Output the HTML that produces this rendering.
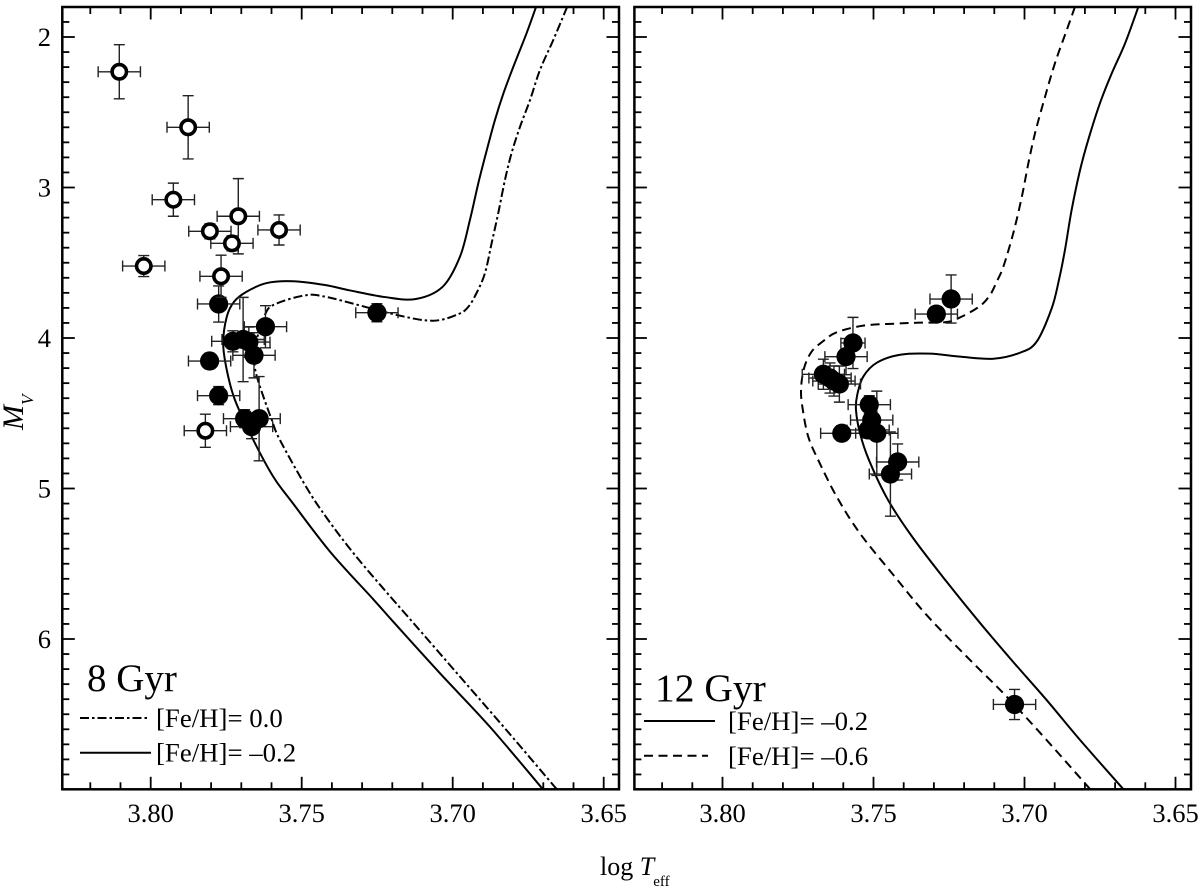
<!DOCTYPE html>
<html lang="en">
<head>
<meta charset="utf-8">
<title>Isochrone comparison: 8 Gyr and 12 Gyr</title>
<style>
html,body{margin:0;padding:0;background:#fff;}
svg{display:block;}
text{font-family:"Liberation Serif",serif;fill:#000;}
</style>
</head>
<body>
<svg id="chart" xmlns="http://www.w3.org/2000/svg" width="1200" height="888" viewBox="0 0 1200 888">
  <rect x="0" y="0" width="1200" height="888" fill="#fff"/>
  <defs>
    <clipPath id="clip-left"><rect x="62.3" y="7" width="556.7" height="782.3"/></clipPath>
    <clipPath id="clip-right"><rect x="634.4" y="7" width="556.6" height="782.3"/></clipPath>
  </defs>
  <g id="panel-left"></g>
  <g id="panel-right"></g>

  <text x="87" y="691" font-size="39">8 Gyr</text>
  <line x1="80" y1="718" x2="147" y2="718" stroke="#000" stroke-width="2" stroke-dasharray="9 3 2.5 3"/>
  <text x="156" y="727" font-size="26.8">[Fe/H]= 0.0</text>
  <line x1="80" y1="752.7" x2="151" y2="752.7" stroke="#000" stroke-width="2"/>
  <text x="156" y="761.7" font-size="26.8">[Fe/H]= –0.2</text>

  <text x="655" y="701" font-size="39.5">12 Gyr</text>
  <line x1="644" y1="721" x2="715" y2="721" stroke="#000" stroke-width="2"/>
  <text x="728" y="730" font-size="26.8">[Fe/H]= –0.2</text>
  <line x1="644" y1="755.7" x2="708" y2="755.7" stroke="#000" stroke-width="2" stroke-dasharray="9 5.5"/>
  <text x="728" y="765" font-size="26.8">[Fe/H]= –0.6</text>

  <text x="600" y="875" font-size="26">log <tspan font-style="italic">T</tspan><tspan dx="-1" dy="11" font-size="15">eff</tspan></text>
  <text transform="translate(23,430) rotate(-90)" font-size="30" font-style="italic">M<tspan dy="10" font-size="17">V</tspan></text>
</svg>

<script>
// ---- tick values ----
const xMajorTicks = [3.80, 3.75, 3.70, 3.65];
const xMajorLabels = ['3.80', '3.75', '3.70', '3.65'];
const xMinorTicks = [3.82, 3.81, 3.79, 3.78, 3.77, 3.76, 3.74, 3.73, 3.72, 3.71, 3.69, 3.68, 3.67, 3.66];
const yMajorTicks = [2, 3, 4, 5, 6];
const yMajorLabels = ['2', '3', '4', '5', '6'];
const yMinorTicks = [1.9, 2.1, 2.2, 2.3, 2.4, 2.5, 2.6, 2.7, 2.8, 2.9, 3.1, 3.2, 3.3, 3.4, 3.5, 3.6, 3.7, 3.8, 3.9, 4.1, 4.2, 4.3, 4.4, 4.5, 4.6, 4.7, 4.8, 4.9, 5.1, 5.2, 5.3, 5.4, 5.5, 5.6, 5.7, 5.8, 5.9, 6.1, 6.2, 6.3, 6.4, 6.5, 6.6, 6.7, 6.8, 6.9];

// ---- 8 Gyr isochrones ----
const left02LogT = [3.6724,3.6755,3.6799,3.6832,3.6860,3.6887,3.6915,3.6943,3.6976,3.7033,3.7122,3.7224,3.7340,3.7423,3.7529,3.7616,3.7682,3.7724,3.7748,3.7760,3.7748,3.7721,3.7660,3.7594,3.7533,3.7406,3.7263,3.7197,3.7042,3.6877,3.6702];
const left02Mv = [1.8,1.973,2.197,2.374,2.551,2.751,2.970,3.216,3.460,3.659,3.741,3.728,3.684,3.648,3.623,3.635,3.692,3.759,3.858,4.035,4.213,4.412,4.678,4.922,5.088,5.420,5.736,5.885,6.228,6.583,6.997];
const left00LogT = [3.6621,3.6667,3.6711,3.6744,3.6777,3.6805,3.6827,3.6849,3.6871,3.6893,3.6921,3.6948,3.6981,3.7064,3.7185,3.7417,3.7495,3.7594,3.7622,3.7645,3.7658,3.7655,3.7638,3.7599,3.7572,3.7483,3.7417,3.7329,3.7230,3.7130,3.6976,3.6821,3.6656];
const left00Mv = [1.8,2.020,2.219,2.419,2.596,2.771,2.950,3.169,3.369,3.568,3.701,3.792,3.841,3.885,3.847,3.728,3.719,3.781,3.847,3.980,4.093,4.199,4.324,4.545,4.678,4.997,5.196,5.429,5.664,5.894,6.250,6.608,6.997];

// ---- 12 Gyr isochrones ----
const right02LogT = [3.6623,3.6667,3.6711,3.6750,3.6789,3.6816,3.6844,3.6866,3.6886,3.6910,3.6960,3.7015,3.7103,3.7214,3.7313,3.7412,3.7489,3.7534,3.7554,3.7558,3.7545,3.7515,3.7452,3.7369,3.7258,3.7147,3.7038,3.6927,3.6816,3.6673];
const right02Mv = [1.8,2.042,2.241,2.439,2.684,2.884,3.150,3.415,3.615,3.803,4.025,4.098,4.138,4.124,4.104,4.111,4.164,4.257,4.379,4.478,4.631,4.811,5.076,5.329,5.619,5.894,6.151,6.405,6.671,6.997];
const right06LogT = [3.6833,3.6860,3.6899,3.6932,3.6965,3.6987,3.7009,3.7037,3.7070,3.7092,3.7114,3.7147,3.7208,3.7258,3.7346,3.7434,3.7534,3.7622,3.7666,3.7705,3.7730,3.7740,3.7734,3.7716,3.7683,3.7622,3.7545,3.7434,3.7324,3.7191,3.7059,3.6927,3.6783];
const right06Mv = [1.8,1.953,2.173,2.397,2.638,2.837,3.063,3.302,3.526,3.626,3.714,3.787,3.858,3.894,3.898,3.905,3.918,3.962,4.020,4.091,4.201,4.346,4.478,4.656,4.811,5.054,5.298,5.575,5.841,6.118,6.383,6.671,6.997];

// ---- 8 Gyr stars ----
const leftFilledLogT = [3.7775,3.7620,3.7251,3.7728,3.7694,3.7675,3.7658,3.7805,3.7775,3.7689,3.7641,3.7666];
const leftFilledMv = [3.774,3.925,3.832,4.022,4.010,4.027,4.115,4.153,4.383,4.536,4.536,4.589];
const leftFilledErrT = [0.007,0.007,0.007,0.007,0.007,0.007,0.007,0.007,0.007,0.007,0.007,0.007];
const leftFilledErrM = [0.12,0.14,0.06,0.07,0.28,0.10,0.15,0.05,0.06,0.06,0.28,0.08];
const leftOpenLogT = [3.8104,3.7876,3.7925,3.7710,3.7804,3.7575,3.7731,3.8023,3.7767,3.7819];
const leftOpenMv = [2.231,2.600,3.081,3.191,3.291,3.282,3.371,3.522,3.590,4.616];
const leftOpenErrT = [0.007,0.007,0.007,0.007,0.007,0.007,0.007,0.007,0.007,0.007];
const leftOpenErrM = [0.18,0.21,0.11,0.25,0.05,0.10,0.05,0.07,0.14,0.11];

// ---- 12 Gyr stars ----
const rightFilledLogT = [3.7243,3.7292,3.7568,3.7591,3.7666,3.7644,3.7631,3.7613,3.7514,3.7506,3.7518,3.7489,3.7605,3.7420,3.7444,3.7033];
const rightFilledMv = [3.741,3.841,4.033,4.124,4.241,4.266,4.286,4.306,4.443,4.545,4.611,4.633,4.633,4.824,4.904,6.435];
const rightFilledErrT = [0.007,0.007,0.004,0.007,0.007,0.007,0.007,0.007,0.007,0.007,0.007,0.007,0.007,0.007,0.007,0.007];
const rightFilledErrM = [0.16,0.05,0.17,0.12,0.10,0.10,0.10,0.12,0.06,0.07,0.05,0.28,0.05,0.12,0.28,0.10];

const SVGNS = 'http://www.w3.org/2000/svg';

function mk(tag, attrs, parent) {
  const el = document.createElementNS(SVGNS, tag);
  for (const k in attrs) el.setAttribute(k, attrs[k]);
  parent.appendChild(el);
  return el;
}

function yScale(m) { return 37 + (m - 2) * 150.5; }

function drawAxes(g, xScale, left, right, showYLabels) {
  const top = 7, bottom = 789.3;
  const frame = mk('rect', {x: left, y: top, width: right - left, height: bottom - top, fill: 'none', stroke: '#000', 'stroke-width': 2.5}, g);
  
  

  function vTicks(vals, len, name) {
    vals.forEach(function (v) {
      const x = xScale(v);
      const t1 = mk('line', {x1: x, x2: x, y1: bottom, y2: bottom - len, stroke: '#000', 'stroke-width': 1.8}, g);
      
      
      const t2 = mk('line', {x1: x, x2: x, y1: top, y2: top + len, stroke: '#000', 'stroke-width': 1.8}, g);
      
      
    });
  }
  function hTicks(vals, len, name) {
    vals.forEach(function (m) {
      const y = yScale(m);
      const t1 = mk('line', {x1: left, x2: left + len, y1: y, y2: y, stroke: '#000', 'stroke-width': 1.8}, g);
      
      
      const t2 = mk('line', {x1: right, x2: right - len, y1: y, y2: y, stroke: '#000', 'stroke-width': 1.8}, g);
      
      
    });
  }
  vTicks(xMajorTicks, 12.5, 'x-major-tick');
  vTicks(xMinorTicks, 7, 'x-minor-tick');
  hTicks(yMajorTicks, 12.5, 'y-major-tick');
  hTicks(yMinorTicks, 7, 'y-minor-tick');

  xMajorTicks.forEach(function (v, i) {
    const t = mk('text', {x: xScale(v), y: 822, 'font-size': 26.5, 'text-anchor': 'middle'}, g);
    
    
    t.textContent = xMajorLabels[i];
  });
  if (showYLabels) {
    yMajorTicks.forEach(function (m, i) {
      const t = mk('text', {x: 51, y: yScale(m) + 8.8, 'font-size': 26.5, 'text-anchor': 'end'}, g);
      
      
      t.textContent = yMajorLabels[i];
    });
  }
}

function drawCurve(g, xScale, logT, mv, dash, clipId, name) {
  // Catmull-Rom smoothing through the data points
  const pts = logT.map(function (v, i) { return [xScale(v), yScale(mv[i])]; });
  let d = 'M' + pts[0][0].toFixed(2) + ' ' + pts[0][1].toFixed(2);
  for (let i = 0; i < pts.length - 1; i++) {
    const p0 = pts[Math.max(i - 1, 0)], p1 = pts[i], p2 = pts[i + 1], p3 = pts[Math.min(i + 2, pts.length - 1)];
    const c1x = p1[0] + (p2[0] - p0[0]) / 6, c1y = p1[1] + (p2[1] - p0[1]) / 6;
    const c2x = p2[0] - (p3[0] - p1[0]) / 6, c2y = p2[1] - (p3[1] - p1[1]) / 6;
    d += 'C' + c1x.toFixed(2) + ' ' + c1y.toFixed(2) + ' ' + c2x.toFixed(2) + ' ' + c2y.toFixed(2) + ' ' + p2[0].toFixed(2) + ' ' + p2[1].toFixed(2);
  }
  const attrs = {d: d, fill: 'none', stroke: '#000', 'stroke-width': 2, 'stroke-linejoin': 'round', 'clip-path': 'url(#' + clipId + ')'};
  if (dash) attrs['stroke-dasharray'] = dash;
  const p = mk('path', attrs, g);
  
  
}

function drawStars(g, xScale, logT, mv, errT, errM, open, name) {
  // error bars first so that all circles sit on top
  logT.forEach(function (v, i) {
    const cx = xScale(v), cy = yScale(mv[i]);
    const x0 = xScale(v + errT[i]), x1 = xScale(v - errT[i]);
    const y0 = yScale(mv[i] - errM[i]), y1 = yScale(mv[i] + errM[i]);
    const d = 'M' + x0 + ' ' + cy + 'L' + x1 + ' ' + cy +
      'M' + x0 + ' ' + (cy - 5.5) + 'L' + x0 + ' ' + (cy + 5.5) +
      'M' + x1 + ' ' + (cy - 5.5) + 'L' + x1 + ' ' + (cy + 5.5) +
      'M' + cx + ' ' + y0 + 'L' + cx + ' ' + y1 +
      'M' + (cx - 5.5) + ' ' + y0 + 'L' + (cx + 5.5) + ' ' + y0 +
      'M' + (cx - 5.5) + ' ' + y1 + 'L' + (cx + 5.5) + ' ' + y1;
    const e = mk('path', {d: d, fill: 'none', stroke: '#222', 'stroke-width': 1.4}, g);
    
    
  });
  logT.forEach(function (v, i) {
    const attrs = open
      ? {cx: xScale(v), cy: yScale(mv[i]), r: 7.2, fill: '#fff', stroke: '#000', 'stroke-width': 3.6}
      : {cx: xScale(v), cy: yScale(mv[i]), r: 9.6, fill: '#000'};
    const c = mk('circle', attrs, g);
    
    
  });
}

const xLeft = function (v) { return 150.7 + (3.80 - v) * 3020; };
const xRight = function (v) { return 722.5 + (3.80 - v) * 3020; };

const gL = document.getElementById('panel-left');
const gR = document.getElementById('panel-right');

drawCurve(gL, xLeft, left02LogT, left02Mv, null, 'clip-left', 'isochrone-fe-minus-0-2-8-gyr');
drawCurve(gL, xLeft, left00LogT, left00Mv, '9 3 2.5 3', 'clip-left', 'isochrone-fe-0-0-8-gyr');
drawStars(gL, xLeft, leftFilledLogT, leftFilledMv, leftFilledErrT, leftFilledErrM, false, 'filled-star-8-gyr');
drawStars(gL, xLeft, leftOpenLogT, leftOpenMv, leftOpenErrT, leftOpenErrM, true, 'open-star-8-gyr');
drawAxes(gL, xLeft, 62.3, 619, true);

drawCurve(gR, xRight, right02LogT, right02Mv, null, 'clip-right', 'isochrone-fe-minus-0-2-12-gyr');
drawCurve(gR, xRight, right06LogT, right06Mv, '9 5.5', 'clip-right', 'isochrone-fe-minus-0-6-12-gyr');
drawStars(gR, xRight, rightFilledLogT, rightFilledMv, rightFilledErrT, rightFilledErrM, false, 'filled-star-12-gyr');
drawAxes(gR, xRight, 634.4, 1191, false);
</script>
</body>
</html>
